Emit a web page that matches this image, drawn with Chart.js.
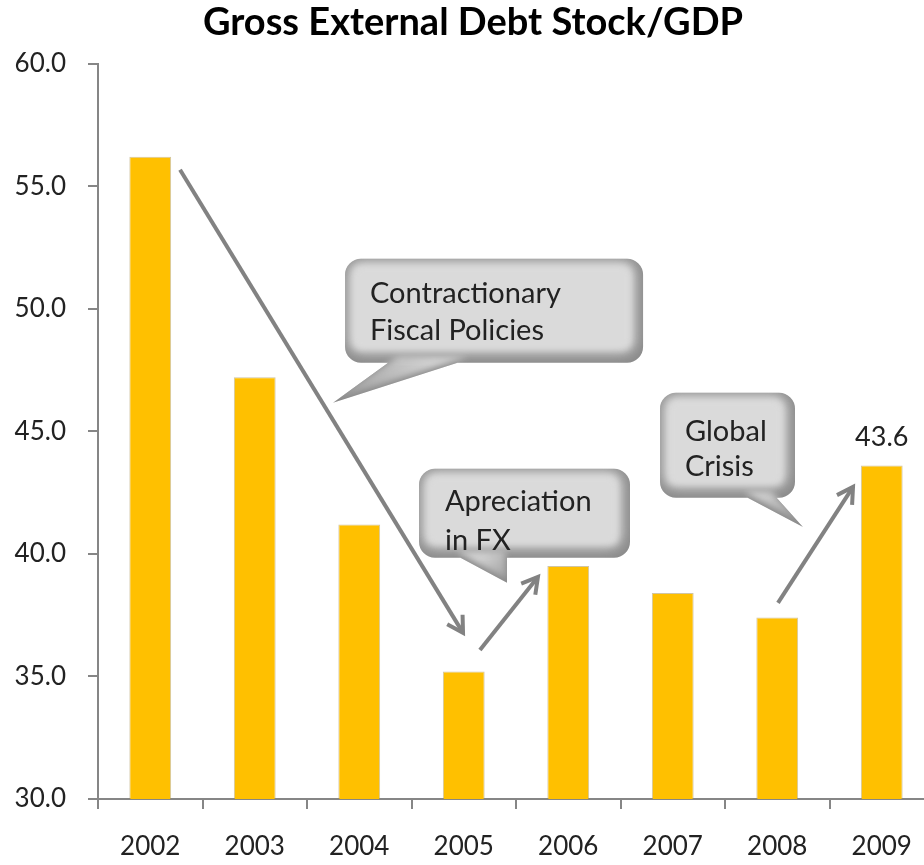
<!DOCTYPE html>
<html>
<head>
<meta charset="utf-8">
<title>Gross External Debt Stock/GDP</title>
<script src="https://cdn.jsdelivr.net/npm/chart.js"></script>
<style>
  html, body { margin:0; padding:0; background:#fff; overflow:hidden; }
  #wrap { width:940px; height:865px; }
</style>
</head>
<body>
<div id="wrap"><canvas id="chart" width="940" height="865"></canvas></div>
<script>
// ---------------- Data ----------------
const years = ["2002", "2003", "2004", "2005", "2006", "2007", "2008", "2009"];
const debtToGdp = [56.2, 47.2, 41.2, 35.2, 39.5, 38.4, 37.4, 43.6];
const yTicks = [30, 35, 40, 45, 50, 55, 60];
const labelledYears = ["2009"];

// callouts and arrows, anchored in (category index, value) units
const callouts = [
  { lines: ["Contractionary", "Fiscal Policies"],
    box: [1.864, 52.04, 4.716, 47.80],
    tail: [[2.33, 47.80], [3.06, 47.80], [1.749, 46.16]],
    textX: 2.103, textY: [50.61, 49.10] },
  { lines: ["Apreciation", "in FX"],
    box: [2.572, 43.47, 4.591, 39.84],
    tail: [[2.897, 39.84], [3.414, 39.84], [3.414, 38.82]],
    textX: 2.82, textY: [42.12, 40.55] },
  { lines: ["Global", "Crisis"],
    box: [4.878, 46.57, 6.170, 42.29],
    tail: [[5.644, 42.29], [5.959, 42.29], [6.246, 41.10]],
    textX: 5.117, textY: [45.00, 43.55] }
];
const arrows = [
  [0.285, 55.67, 2.993, 36.78],
  [3.155, 36.08, 3.710, 39.06],
  [6.007, 38.00, 6.725, 42.73]
];

const AXIS = "#868686";
const TEXT = "#222222";
Chart.defaults.font.family = "Lato, 'Open Sans', sans-serif";

// ---------------- Annotation plugin ----------------
function drawArrow(ctx, x1, y1, x2, y2) {
  const ang = Math.atan2(y2 - y1, x2 - x1);
  const head = 18, spread = Math.PI / 6;
  ctx.save();
  ctx.strokeStyle = "#828282";
  ctx.lineWidth = 4;
  ctx.lineCap = "butt";
  ctx.lineJoin = "miter";
  ctx.beginPath();
  ctx.moveTo(x1, y1);
  ctx.lineTo(x2 - Math.cos(ang) * 2, y2 - Math.sin(ang) * 2);
  ctx.stroke();
  ctx.beginPath();
  ctx.moveTo(x2 - head * Math.cos(ang - spread), y2 - head * Math.sin(ang - spread));
  ctx.lineTo(x2, y2);
  ctx.lineTo(x2 - head * Math.cos(ang + spread), y2 - head * Math.sin(ang + spread));
  ctx.stroke();
  ctx.restore();
}

function calloutPath(x1, y1, x2, y2, tail) {
  const p = new Path2D();
  p.roundRect(x1, y1, x2 - x1, y2 - y1, 16);
  // keep the tail wound the same way as the box so the fill is a union
  let pts = tail.map(t => [t[0], t[1]]);
  pts[0][1] -= 4; pts[1][1] -= 4;
  const area = pts.reduce((s, q, i) => {
    const r = pts[(i + 1) % pts.length];
    return s + q[0] * r[1] - r[0] * q[1];
  }, 0);
  if (area < 0) pts.reverse();
  p.moveTo(pts[0][0], pts[0][1]);
  p.lineTo(pts[1][0], pts[1][1]);
  p.lineTo(pts[2][0], pts[2][1]);
  p.closePath();
  return p;
}

const annotations = {
  id: "annotations",
  afterDatasetsDraw(chart) {
    const { ctx, scales: { x, y } } = chart;
    const px = v => x.getPixelForValue(v);
    const py = v => y.getPixelForValue(v);

    // arrows
    arrows.forEach(a => drawArrow(ctx, px(a[0]), py(a[1]), px(a[2]), py(a[3])));

    // callouts
    callouts.forEach(c => {
      const bx1 = px(c.box[0]), by1 = py(c.box[1]), bx2 = px(c.box[2]), by2 = py(c.box[3]);
      const tail = c.tail.map(t => [px(t[0]), py(t[1])]);
      const path = calloutPath(bx1, by1, bx2, by2, tail);
      ctx.save();
      ctx.clip(path);
      ctx.fillStyle = "#8a8a8a";
      ctx.fillRect(bx1 - 50, by1 - 50, bx2 - bx1 + 100, tail[2][1] - by1 + 100);

      // tail: lighter near the box, darker toward the tip
      const mx = (tail[0][0] + tail[1][0]) / 2, my = (tail[0][1] + tail[1][1]) / 2;
      const g = ctx.createLinearGradient(mx, my, tail[2][0], tail[2][1]);
      g.addColorStop(0, "#d2d2d2");
      g.addColorStop(1, "#9a9a9a");
      ctx.filter = "blur(3px)";
      ctx.fillStyle = g;
      ctx.beginPath();
      ctx.moveTo(tail[0][0] + 4, tail[0][1] - 6);
      ctx.lineTo(tail[1][0] - 2, tail[1][1] - 6);
      ctx.lineTo(tail[2][0], tail[2][1] - 3);
      ctx.closePath();
      ctx.fill();

      ctx.filter = "blur(7px)";
      ctx.fillStyle = "#dadada";
      ctx.beginPath();
      ctx.roundRect(bx1 + 3, by1 + 2, bx2 - bx1 - 11, by2 - by1 - 12, 12);
      ctx.fill();
      ctx.filter = "blur(3px)";
      ctx.beginPath();
      ctx.roundRect(bx1 + 8, by1 + 7, bx2 - bx1 - 20, by2 - by1 - 20, 8);
      ctx.fill();
      ctx.restore();

      ctx.save();
      ctx.fillStyle = TEXT;
      ctx.font = "29px Lato, sans-serif";
      ctx.textAlign = "left";
      ctx.textBaseline = "middle";
      c.lines.forEach((line, i) => ctx.fillText(line, px(c.textX), py(c.textY[i])));
      ctx.restore();
    });

    // value label
    const meta = chart.getDatasetMeta(0);
    ctx.save();
    ctx.fillStyle = TEXT;
    ctx.font = "27px Lato, sans-serif";
    ctx.textAlign = "center";
    ctx.textBaseline = "alphabetic";
    years.forEach((yr, i) => {
      if (!labelledYears.includes(yr)) return;
      const bar = meta.data[i];
      ctx.fillText(debtToGdp[i].toFixed(1), bar.x, bar.y - 20);
    });
    ctx.restore();
  }
};

// ---------------- Chart ----------------
new Chart(document.getElementById("chart"), {
  type: "bar",
  data: {
    labels: years,
    datasets: [{
      label: "Gross External Debt Stock/GDP",
      data: debtToGdp,
      backgroundColor: "#FFC000",
      borderColor: "rgba(170,150,90,0.55)",
      borderWidth: 1,
      borderSkipped: "bottom",
      categoryPercentage: 1.0,
      barPercentage: 0.4
    }]
  },
  options: {
    responsive: false,
    animation: false,
    layout: { padding: { left: 12, right: 6, top: 0, bottom: 0 } },
    plugins: {
      legend: { display: false },
      tooltip: { enabled: false },
      title: {
        display: true,
        text: "Gross External Debt Stock/GDP",
        color: "#000",
        font: { size: 38, weight: "bold" },
        padding: { top: 0, bottom: 18 }
      }
    },
    scales: {
      x: {
        grid: { display: true, drawOnChartArea: false, drawTicks: true, tickLength: 10, color: AXIS, lineWidth: 2, offset: true },
        border: { display: true, color: AXIS, width: 2 },
        ticks: { color: TEXT, font: { size: 26 }, padding: 22 },
        afterFit: s => { s.height = 66; }
      },
      y: {
        min: 30,
        max: 60,
        afterBuildTicks: s => { s.ticks = yTicks.map(v => ({ value: v })); },
        grid: { display: true, drawOnChartArea: false, drawTicks: true, tickLength: 10, color: AXIS, lineWidth: 2 },
        border: { display: true, color: AXIS, width: 2 },
        ticks: { color: TEXT, font: { size: 26 }, padding: 22, callback: v => v.toFixed(1) },
        afterFit: s => { s.width = 86; }
      }
    }
  },
  plugins: [annotations]
});
</script>
</body>
</html>
